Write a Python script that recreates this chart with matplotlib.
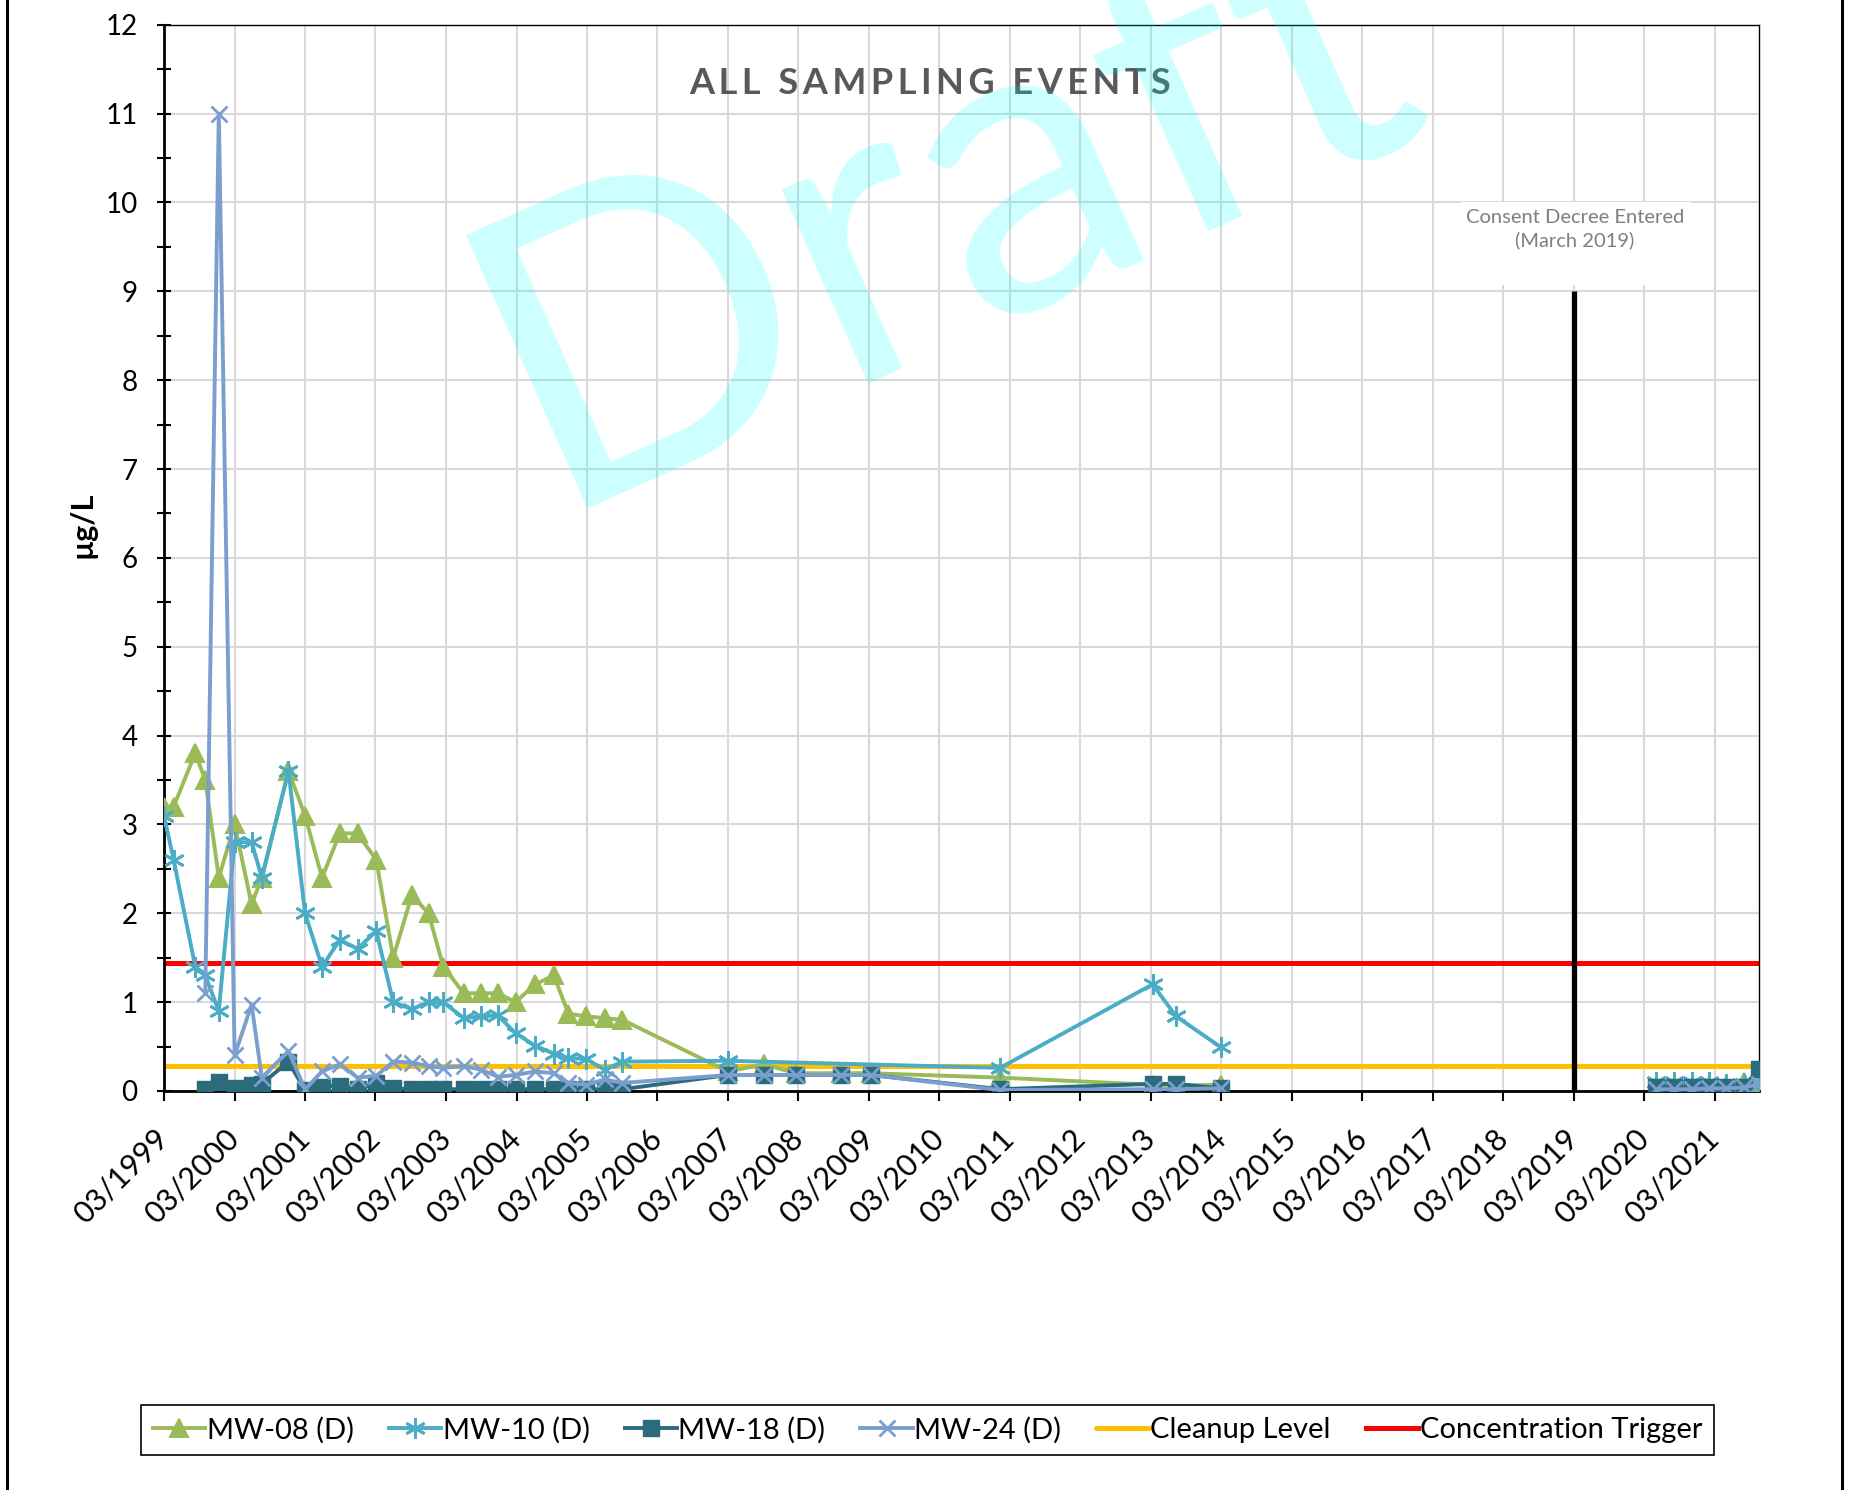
import numpy as np
import pandas as pd
import matplotlib
matplotlib.use("Agg")
import matplotlib.pyplot as plt
import matplotlib.transforms as mtransforms
from matplotlib.lines import Line2D
from matplotlib.patches import Rectangle

plt.rcParams['font.family'] = ['Lato', 'DejaVu Sans']

# sampling dates
early_dates = ["1999-03-01", "1999-04-20", "1999-08-10", "1999-10-01", "1999-12-10",
               "2000-03-01", "2000-05-28", "2000-07-20", "2000-12-05", "2001-03-01",
               "2001-05-28", "2001-08-28", "2001-11-28", "2002-03-05", "2002-06-01",
               "2002-09-05", "2002-12-01", "2003-02-15", "2003-06-01", "2003-09-01",
               "2003-11-25", "2004-02-25", "2004-06-05", "2004-09-10", "2004-11-25",
               "2005-02-25", "2005-06-01", "2005-09-01"]
mid_dates = ["2007-03-01", "2007-09-05", "2008-02-15", "2008-10-10", "2009-03-10",
             "2011-01-10", "2013-03-10", "2013-07-10", "2014-03-01"]
late_dates = ["2020-05-01", "2020-08-01", "2020-11-01", "2021-02-01", "2021-05-01",
              "2021-08-01", "2021-10-17"]

# concentrations (ug/L)
mw08_early = [3.2, 3.2, 3.8, 3.5, 2.4, 3.0, 2.1, 2.4, 3.6, 3.1, 2.4, 2.9, 2.9, 2.6,
              1.5, 2.2, 2.0, 1.4, 1.1, 1.1, 1.1, 1.0, 1.2, 1.3, 0.87, 0.84, 0.82, 0.8]
mw08_mid = [0.22, 0.3, 0.2, 0.2, 0.2, 0.15, 0.07, 0.06, 0.07]
mw08_late = [0.05, 0.05, 0.05, 0.06, 0.06, 0.1, 0.08]

mw10_early = [3.1, 2.6, 1.4, 1.3, 0.9, 2.8, 2.8, 2.4, 3.6, 2.0, 1.4, 1.7, 1.6, 1.8,
              1.0, 0.92, 1.0, 1.0, 0.82, 0.84, 0.85, 0.65, 0.51, 0.42, 0.37, 0.36, 0.24, 0.33]
mw10_mid = [0.34, None, None, None, None, 0.26, 1.2, 0.84, 0.49]
mw10_late = [0.1, 0.1, 0.1, 0.1, 0.08, 0.08, 0.06]

mw18_early = [None, None, None, 0.02, 0.1, 0.03, 0.07, 0.08, 0.33, 0.01, 0.05, 0.06,
              0.02, 0.09, 0.03, 0.02, 0.02, 0.02, 0.02, 0.02, 0.02, 0.02, 0.02, 0.02,
              0.02, 0.02, 0.02, 0.02]
mw18_mid = [0.18, 0.18, 0.18, 0.18, 0.18, 0.02, 0.08, 0.08, 0.03]
mw18_late = [0.04, 0.04, 0.04, 0.04, 0.04, 0.05, 0.25]

mw24_early = [None, None, None, 1.1, 11.0, 0.4, 0.97, 0.15, 0.45, 0.02, 0.22, 0.3,
              0.15, 0.17, 0.33, 0.32, 0.28, 0.26, 0.28, 0.24, 0.16, 0.18, 0.22, 0.2,
              0.09, 0.07, 0.13, 0.09]
mw24_mid = [0.18, 0.18, 0.18, 0.18, 0.18, 0.01, 0.02, 0.02, 0.03]
mw24_late = [0.02, 0.02, 0.02, 0.03, 0.03, 0.04, 0.08]

cleanup_level = 0.28
conc_trigger = 1.44
decree_date = "2019-03-01"
decree_height = 9
x_start = "1999-03-01"
x_end = "2021-10-17"


def clean(dates, vals):
    d = [pd.Timestamp(a) for a, v in zip(dates, vals) if v is not None]
    v = [v for v in vals if v is not None]
    return d, v


fig = plt.figure(figsize=(18.53, 14.90), dpi=100)
ax = fig.add_axes([0.0885, 0.2678, 0.8608, 0.7156])

styles = [
    ("MW-08 (D)", mw08_early + mw08_mid, mw08_late, "#9BBB59", "^", 13, 1.5),
    ("MW-10 (D)", mw10_early + mw10_mid, mw10_late, "#4BACC6", (6, 2, 0), 15, 2.0),
    ("MW-18 (D)", mw18_early + mw18_mid, mw18_late, "#2A6B7C", "s", 12, 1.0),
    ("MW-24 (D)", mw24_early + mw24_mid, mw24_late, "#7A9FCF", "x", 12, 2.0),
]
handles = []
for name, seg1, seg2, col, mk, ms, mew in styles:
    d1, v1 = clean(early_dates + mid_dates, seg1)
    d2, v2 = clean(late_dates, seg2)
    h, = ax.plot(d1, v1, color=col, lw=2.8, marker=mk, ms=ms, mew=mew,
                 mec=col, mfc=col, label=name, zorder=3)
    ax.plot(d2, v2, color=col, lw=2.8, marker=mk, ms=ms, mew=mew,
            mec=col, mfc=col, zorder=3)
    handles.append(h)

xs = pd.Timestamp(x_start)
xe = pd.Timestamp(x_end)
hc, = ax.plot([xs, xe], [cleanup_level, cleanup_level], color="#FFC000", lw=3.6,
              solid_capstyle="round", label="Cleanup Level", zorder=2.5)
ht, = ax.plot([xs, xe], [conc_trigger, conc_trigger], color="#FF0000", lw=3.6,
              label="Concentration Trigger", zorder=2.5)
handles += [hc, ht]

# consent decree marker
dd = pd.Timestamp(decree_date)
ax.plot([dd, dd], [0, decree_height], color="black", lw=3.8, solid_capstyle="butt", zorder=2.6)
ax.add_patch(Rectangle((1461 / 1853, 1 - 285 / 1490), 230 / 1853, 83 / 1490,
                       transform=fig.transFigure, facecolor="white", edgecolor="none",
                       zorder=1, clip_on=False))
fig.text(1575 / 1853, 1 - 229 / 1490, "Consent Decree Entered\n(March 2019)",
         ha="center", va="center", fontsize=14.5, color="#7F7F7F", linespacing=1.4)

# axes
ax.set_xlim(xs, xe)
ax.set_ylim(0, 12)
ax.set_yticks(range(0, 13))
ax.set_yticks(np.arange(0.5, 12, 1.0), minor=True)
years = list(range(1999, 2022))
ax.set_xticks([pd.Timestamp(f"{y}-03-01") for y in years])
ax.set_xticklabels([f"03/{y}" for y in years], rotation=45, ha="right", va="center",
                   rotation_mode="anchor", fontsize=22)
offset = mtransforms.ScaledTranslation(8 / 100, 0, fig.dpi_scale_trans)
for lab in ax.get_xticklabels():
    lab.set_transform(lab.get_transform() + offset)
ax.tick_params(axis="x", direction="out", length=7, width=1.5, pad=24)
ax.tick_params(axis="y", which="both", direction="inout", length=10, width=1.5,
               labelsize=20, pad=14)
ax.grid(True, which="major", color="#D9D9D9", lw=1.5)
ax.set_axisbelow(True)
for s in ["left", "bottom"]:
    ax.spines[s].set_linewidth(2.0)
for s in ["top", "right"]:
    ax.spines[s].set_linewidth(1.0)

ax.set_ylabel("µg/L", fontsize=22, fontweight="bold")
ax.yaxis.set_label_coords(-0.0426, 0.531)

fig.text(0.502, 0.944, "\u200a\u200a".join("ALL SAMPLING EVENTS"), ha="center",
         va="center", fontsize=26, fontweight="bold", color="#595959")

leg = ax.legend(handles=handles, loc="center", bbox_to_anchor=(0.5005, 0.0403),
                bbox_transform=fig.transFigure, ncol=6, frameon=True, fancybox=False,
                edgecolor="black", fontsize=21, handlelength=1.8, handletextpad=0.05,
                columnspacing=1.2, borderpad=0.4, framealpha=1)
leg.get_frame().set_linewidth(1.2)

# page border lines
for xb in [7 / 1853, 1842 / 1853]:
    fig.add_artist(Line2D([xb, xb], [0, 1], transform=fig.transFigure, color="black", lw=2.2))

# watermark
fig.text(550 / 1853, 1 - 508 / 1490, "Draft", fontsize=300, rotation=24,
         rotation_mode="anchor", ha="left", va="baseline", color="cyan", alpha=0.2,
         zorder=10)

fig.savefig("out.png", dpi=100)
